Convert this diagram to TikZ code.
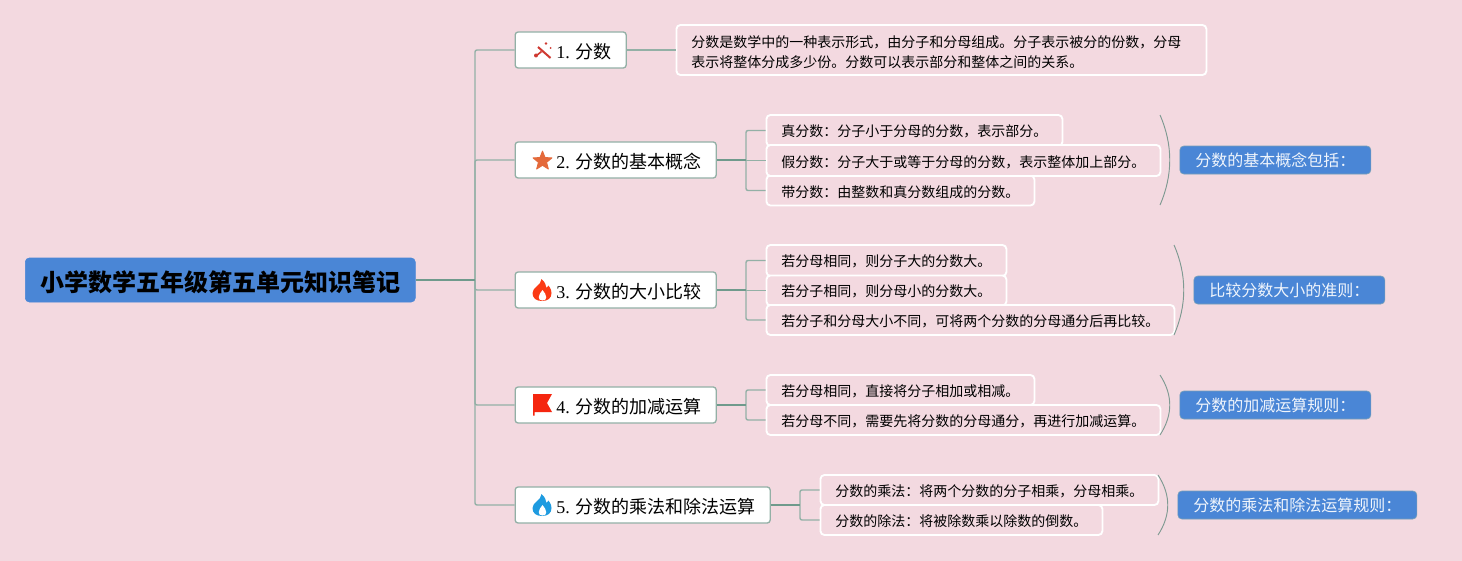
\documentclass[tikz,border=0pt]{standalone}
\usepackage{fontspec}
\setmainfont{Liberation Serif}
\newfontfamily\cjk{Noto Sans CJK SC}
\usetikzlibrary{shapes.geometric}
\definecolor{bgc}{HTML}{F3D9E0}
\definecolor{bluec}{HTML}{4A86D6}
\definecolor{linec}{HTML}{93B0A6}
\definecolor{darkc}{HTML}{6F9A8C}
\definecolor{arcc}{HTML}{7F9A92}
\definecolor{starc}{HTML}{E4693A}
\definecolor{wandc}{HTML}{CF3A32}
\definecolor{flagc}{HTML}{F5260F}
\definecolor{flamer}{HTML}{FB3A14}
\definecolor{flameb}{HTML}{1E9BE0}
\tikzset{
  x=0.75pt,y=-0.75pt,
  sz/.style 2 args={minimum width=#1*0.75pt,minimum height=#2*0.75pt},
  rootbox/.style={fill=bluec,draw=bluec,rounded corners=3pt,anchor=west,inner sep=0pt,font=\fontsize{18pt}{22pt}\selectfont\cjk\bfseries,text=black},
  topicbox/.style={fill=white,draw=linec,line width=1pt,rounded corners=2.2pt,anchor=west,inner sep=0pt,font=\fontsize{13.5pt}{16pt}\selectfont},
  subbox/.style={fill=bgc,draw=white,line width=1.4pt,rounded corners=3pt,anchor=west,inner sep=0pt,font=\fontsize{10.5pt}{15pt}\selectfont\cjk,align=left},
  sumbox/.style={fill=bluec,draw=linec!60!bluec,line width=.5pt,rounded corners=3pt,anchor=west,inner sep=0pt,font=\fontsize{12pt}{15pt}\selectfont\cjk,text=white!92!bluec},
  lnk/.style={draw=linec,line width=1.05pt,rounded corners=1.5pt},
  lnkd/.style={draw=darkc,line width=1.2pt},
  arcl/.style={draw=arcc,line width=.7pt},
}
\newcommand{\fc}{\char"FF0C\relax}
\newcommand{\fk}{\char"FF1A\relax}
\newcommand{\dn}[2]{\raisebox{-#1pt}[\height][\depth]{#2}}
\newcommand{\topictext}[2]{\dn{1.5}{\hspace*{20pt}#1 {\cjk #2}}}
\newcommand{\flame}[3]{%
  \fill[#3] (#1,#2+11) .. controls (#1-6,#2+11) and (#1-9.5,#2+8) .. (#1-9.5,#2+3)
    .. controls (#1-9.5,#2-3) and (#1-1,#2-4) .. (#1-0.5,#2-11)
    .. controls (#1+3,#2-8) and (#1+4,#2-5) .. (#1+4.5,#2-2)
    .. controls (#1+6,#2-3) and (#1+6,#2-4) .. (#1+6.5,#2-4.5)
    .. controls (#1+9,#2-1) and (#1+9.5,#2+1) .. (#1+9.5,#2+3)
    .. controls (#1+9.5,#2+8) and (#1+6,#2+11) .. (#1,#2+11) -- cycle;
  \fill[white] (#1+0.5,#2+10.5) .. controls (#1-5,#2+10.5) and (#1-4,#2+5) .. (#1+0.5,#2+0)
    .. controls (#1+5,#2+5) and (#1+6,#2+10.5) .. (#1+0.5,#2+10.5) -- cycle;}
\begin{document}
\begin{tikzpicture}
\useasboundingbox (0,0) rectangle (1462,560);
\fill[bgc] (-5,-5) rectangle (1467,565);
\coordinate (trunkx) at (475,280);
\coordinate (xa) at (746,0);
\coordinate (xb) at (800,0);

\node[rootbox,sz={390}{44}] (root) at (25,280) {\dn{1.5}{小学数学五年级第五单元知识笔记}};
\node[topicbox,sz={111}{36}] (t1) at (514.5,50) {\topictext{1.}{分数}};
\node[topicbox,sz={201}{36}] (t2) at (514.5,160) {\topictext{2.}{分数的基本概念}};
\node[topicbox,sz={201}{36}] (t3) at (514.5,290) {\topictext{3.}{分数的大小比较}};
\node[topicbox,sz={201}{36}] (t4) at (514.5,405) {\topictext{4.}{分数的加减运算}};
\node[topicbox,sz={255}{36}] (t5) at (514.5,505) {\topictext{5.}{分数的乘法和除法运算}};

\node[subbox,sz={530}{50},text width=500*0.75pt] (d1) at (675.5,50) {\rule{0pt}{12pt}分数是数学中的一种表示形式\fc 由分子和分母组成。分子表示被分的份数\fc 分母\\表示将整体分成多少份。分数可以表示部分和整体之间的关系。};

\node[subbox,sz={296}{31}] (s21) at (765.5,130.5) {\dn{1}{真分数\fk 分子小于分母的分数\fc 表示部分。}};
\node[subbox,sz={268}{30}] (s23) at (765.5,190.5) {\dn{1}{带分数\fk 由整数和真分数组成的分数。}};
\node[subbox,sz={394}{31}] (s22) at (765.5,160.5) {\dn{1}{假分数\fk 分子大于或等于分母的分数\fc 表示整体加上部分。}};

\node[subbox,sz={240}{31}] (s31) at (765.5,260.5) {\dn{1}{若分母相同\fc 则分子大的分数大。}};
\node[subbox,sz={240}{30}] (s32) at (765.5,290.5) {\dn{1}{若分子相同\fc 则分母小的分数大。}};
\node[subbox,sz={408}{30}] (s33) at (765.5,320) {\dn{1}{若分子和分母大小不同\fc 可将两个分数的分母通分后再比较。}};

\node[subbox,sz={268}{30}] (s41) at (765.5,390) {\dn{1}{若分母相同\fc 直接将分子相加或相减。}};
\node[subbox,sz={394}{30}] (s42) at (765.5,420) {\dn{1}{若分母不同\fc 需要先将分数的分母通分\fc 再进行加减运算。}};

\node[subbox,sz={338}{30}] (s51) at (819.5,490) {\dn{1}{分数的乘法\fk 将两个分数的分子相乘\fc 分母相乘。}};
\node[subbox,sz={282}{30}] (s52) at (819.5,520) {\dn{1}{分数的除法\fk 将被除数乘以除数的倒数。}};

\node[sumbox,sz={191}{28}] (m2) at (1179.5,160) {\dn{0.5}{分数的基本概念包括\fk}};
\node[sumbox,sz={191}{28}] (m3) at (1193.5,290) {\dn{0.5}{比较分数大小的准则\fk}};
\node[sumbox,sz={191}{28}] (m4) at (1179.5,405) {\dn{0.5}{分数的加减运算规则\fk}};
\node[sumbox,sz={239}{28}] (m5) at (1177.5,505) {\dn{0.5}{分数的乘法和除法运算规则\fk}};

% root to topics
\path[lnk] (trunkx) |- (t1.west);
\path[lnk] (trunkx) |- (t2.west);
\path[lnk] (trunkx) |- (t3.west);
\path[lnk] (trunkx) |- (t4.west);
\path[lnk] (trunkx) |- (t5.west);
\path[lnkd] (root.east) -- (trunkx);
\path[lnk] (t1.east) -- (d1.west);
% topic 2
\path[lnk] (s21.west) -- (xa |- s21.west) -- (xa |- s23.west) -- (s23.west);
\path[lnk] (xa |- s22.west) -- (s22.west);
\path[lnkd] (t2.east) -- (xa |- t2.east);
% topic 3
\path[lnk] (s31.west) -- (xa |- s31.west) -- (xa |- s33.west) -- (s33.west);
\path[lnk] (xa |- s32.west) -- (s32.west);
\path[lnkd] (t3.east) -- (xa |- t3.east);
% topic 4
\path[lnk] (s41.west) -- (xa |- s41.west) -- (xa |- s42.west) -- (s42.west);
\path[lnkd] (t4.east) -- (xa |- t4.east);
% topic 5
\path[lnk] (s51.west) -- (xb |- s51.west) -- (xb |- s52.west) -- (s52.west);
\path[lnkd] (t5.east) -- (xb |- t5.east);
% summary arcs
\coordinate (a2a) at (1160,115); \coordinate (a2b) at (1160,205);
\coordinate (a3a) at (1174,245); \coordinate (a3b) at (1174,335);
\coordinate (a4a) at (1160,375); \coordinate (a4b) at (1160,435);
\coordinate (a5a) at (1158,475); \coordinate (a5b) at (1158,535);
\path[arcl] (a2a) .. controls (1173,145) and (1173,175) .. (a2b);
\path[arcl] (a3a) .. controls (1187,275) and (1187,305) .. (a3b);
\path[arcl] (a4a) .. controls (1173,395) and (1173,415) .. (a4b);
\path[arcl] (a5a) .. controls (1171,495) and (1171,515) .. (a5b);

% icons
\draw[wandc,line width=1.5pt] (538,47) -- (550.5,58);
\draw[wandc,line width=1.2pt] (536,56) -- (541.5,51.5);
\fill[wandc] (536,55.5) circle (2);
\fill[wandc] (546,43.5) circle (1.4);
\fill[wandc] (550.5,48) circle (1);
\node[star,star points=5,star point ratio=2.3,fill=starc,draw=starc,line width=.6pt,line join=round,inner sep=0pt,minimum size=20*0.75pt] (star2) at (542.5,161) {};
\flame{542}{290}{flamer}
\fill[flagc] (533,394) -- (552,394) -- (547,403) -- (552,412) -- (534.5,412) -- (534.5,415.5) -- (533,415.5) -- cycle;
\flame{542}{505}{flameb}
\end{tikzpicture}
\end{document}
